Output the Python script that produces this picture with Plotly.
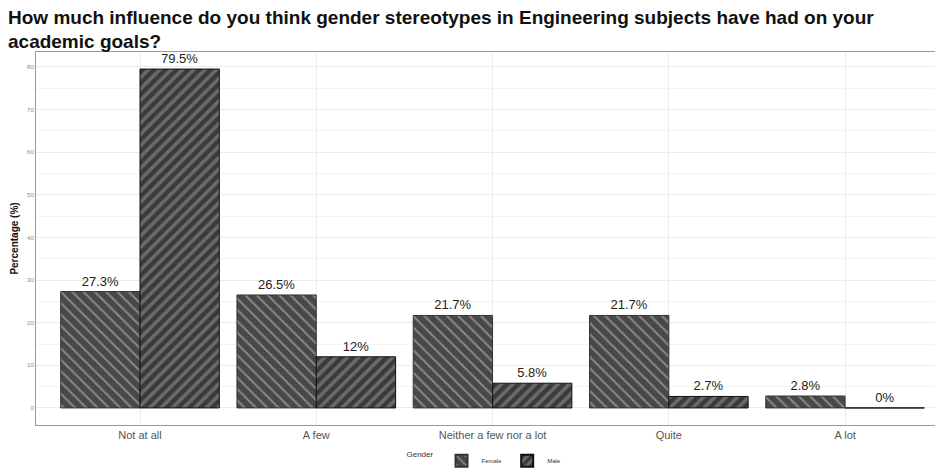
import plotly.graph_objects as go

categories = ["Not at all", "A few", "Neither a few nor a lot", "Quite", "A lot"]
female = [27.3, 26.5, 21.7, 21.7, 2.8]
male = [79.5, 12, 5.8, 2.7, 0]
female_labels = ["27.3%", "26.5%", "21.7%", "21.7%", "2.8%"]
male_labels = ["79.5%", "12%", "5.8%", "2.7%", "0%"]

fig = go.Figure()
fig.add_trace(go.Bar(
    x=categories, y=female, name="Female", text=female_labels,
    textposition="outside", cliponaxis=False,
    textfont=dict(size=13, color="#222"),
    marker=dict(color="#484848", line=dict(color="#333", width=1),
                pattern=dict(shape="\\", fgcolor="#c8c8c8", size=8, solidity=0.25)),
))
fig.add_trace(go.Bar(
    x=categories, y=male, name="Male", text=male_labels,
    textposition="outside", cliponaxis=False,
    textfont=dict(size=13, color="#222"),
    marker=dict(color="#6a6a6a", line=dict(color="#111", width=1),
                pattern=dict(shape="/", fgcolor="#0a0a0a", size=8, solidity=0.55)),
))

fig.update_layout(
    width=935, height=462,
    barmode="group", bargap=0.1, bargroupgap=0,
    paper_bgcolor="white", plot_bgcolor="white",
    font=dict(family="Liberation Sans, Arial, sans-serif", color="#333"),
    title=dict(text="<b>How much influence do you think gender stereotypes in Engineering subjects have had on your<br>academic goals?</b>",
               x=0.0, xanchor="left", xref="container", yref="container",
               y=0.966, yanchor="middle",
               font=dict(size=19, color="#111"), automargin=False),
    margin=dict(l=28, r=8, t=44, b=45, autoexpand=False),
    legend=dict(orientation="h", x=0.5, xanchor="center", yref="container", y=0.02, yanchor="middle",
                title=dict(text="Gender", font=dict(size=8), side="left"),
                font=dict(size=6), itemsizing="constant"),
    showlegend=True,
)
fig.update_yaxes(
    range=[-4, 83.5], tickvals=[0, 10, 20, 30, 40, 50, 60, 70, 80],
    tickfont=dict(size=6, color="#888"), automargin=False,
    showgrid=True, gridcolor="#ebebeb", gridwidth=1,
    minor=dict(tickvals=[5, 15, 25, 35, 45, 55, 65, 75], showgrid=True, gridcolor="#f4f4f4"),
    zeroline=False, showline=True, linecolor="#999", mirror=True,
    title=dict(text="<b>Percentage (%)</b>", font=dict(size=10, color="#111"), standoff=6),
    ticks="", ticklen=0,
)
fig.update_xaxes(
    range=[-0.59, 4.51], tickfont=dict(size=11, color="#555"), automargin=False,
    showgrid=True, gridcolor="#ebebeb", showline=True, linecolor="#999", mirror=True,
    ticks="",
)

fig.write_html("out.html")
